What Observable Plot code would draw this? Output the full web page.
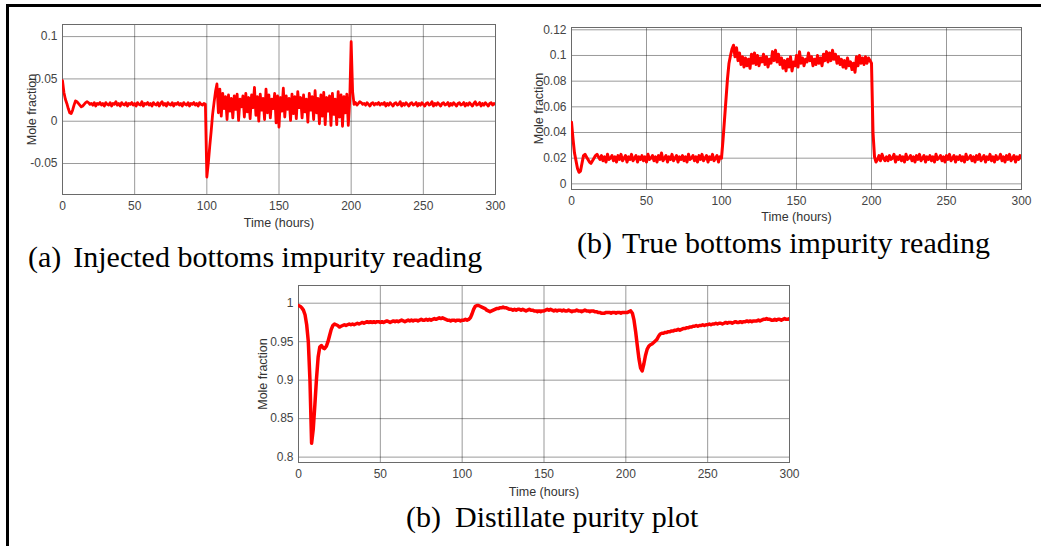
<!DOCTYPE html>
<html><head><meta charset="utf-8">
<script src="https://cdn.jsdelivr.net/npm/d3@7"></script>
<script src="https://cdn.jsdelivr.net/npm/@observablehq/plot@0.6"></script>
<style>
html,body{margin:0;padding:0;background:#fff;}
#fig{position:relative;width:1041px;height:546px;overflow:hidden;background:#fff;}
.pane{position:absolute;}
.cap{position:absolute;font-family:"Liberation Serif","Times New Roman",serif;font-size:30px;line-height:30px;color:#000;white-space:nowrap;}
.cap .n{display:inline-block;}
.bl{position:absolute;background:#000;}
</style></head><body>
<div id="fig">
  <div class="bl" style="left:6px;top:4px;width:3px;height:542px"></div>
  <div class="bl" style="left:6px;top:4px;width:1035px;height:3px"></div>
  <div id="pa" class="pane" style="left:0px;top:0px;width:520px"></div>
  <div id="pb" class="pane" style="left:520px;top:0px;width:521px"></div>
  <div id="pc" class="pane" style="left:240px;top:270px;width:570px"></div>
  <div class="cap" style="left:28px;top:242px"><span class="n" style="margin-right:12px">(a)</span>Injected bottoms impurity reading</div>
  <div class="cap" style="left:577px;top:228px"><span class="n" style="margin-right:10px">(b)</span>True bottoms impurity reading</div>
  <div class="cap" style="left:406px;top:502px"><span class="n" style="margin-right:14px">(b)</span>Distillate purity plot</div>
</div>
<script>
// Sampling instants (hours)
const hours = d3.range(0, 301);

// (a) Injected bottoms impurity reading (mole fraction)
const injectedBottoms = [
0.048,0.034,0.026,0.021,0.015,0.010,0.009,0.013,0.019,0.024,
0.023,0.021,0.019,0.017,0.018,0.020,0.022,0.023,0.022,0.020,
0.021,0.019,0.022,0.018,0.021,0.020,0.022,0.019,0.021,0.018,
0.022,0.020,0.019,0.022,0.018,0.021,0.020,0.023,0.019,0.021,
0.018,0.022,0.020,0.019,0.022,0.018,0.021,0.020,0.022,0.019,
0.021,0.018,0.022,0.020,0.019,0.023,0.018,0.021,0.020,0.022,
0.019,0.021,0.018,0.022,0.020,0.019,0.022,0.018,0.021,0.023,
0.019,0.021,0.018,0.022,0.020,0.019,0.022,0.018,0.021,0.020,
0.022,0.019,0.021,0.018,0.022,0.020,0.019,0.022,0.018,0.021,
0.020,0.022,0.019,0.021,0.018,0.022,0.020,0.019,0.021,0.020,
-0.066,-0.050,-0.030,-0.012,0.008,0.022,0.035,0.044,0.010,0.038,
0.006,0.033,0.015,0.029,0.002,0.031,0.012,0.027,0.004,0.030,
0.014,0.032,0.001,0.026,0.017,0.030,0.005,0.033,0.011,0.028,
0.003,0.031,0.016,0.040,0.007,0.029,0.000,0.032,0.013,0.027,
0.002,0.038,0.010,0.031,0.004,0.026,0.015,0.033,-0.002,0.030,
-0.007,0.028,0.012,0.039,0.005,0.030,0.014,0.027,0.001,0.032,
0.009,0.029,0.003,0.035,0.016,0.028,0.004,0.031,0.011,0.026,
-0.001,0.033,0.013,0.029,0.002,0.036,0.010,0.027,-0.003,0.031,
0.006,0.034,-0.004,0.028,0.012,0.030,-0.005,0.033,0.008,0.026,
-0.004,0.035,0.005,0.031,-0.006,0.029,0.010,0.032,-0.005,0.024,
0.094,0.035,0.020,0.022,0.019,0.021,0.023,0.022,0.020,0.021,
0.019,0.022,0.020,0.018,0.021,0.022,0.019,0.021,0.020,0.022,
0.019,0.021,0.020,0.022,0.018,0.021,0.019,0.022,0.020,0.018,
0.021,0.022,0.019,0.020,0.023,0.018,0.021,0.019,0.022,0.020,
0.018,0.021,0.022,0.019,0.020,0.022,0.018,0.021,0.019,0.022,
0.020,0.018,0.021,0.022,0.019,0.020,0.023,0.018,0.021,0.019,
0.022,0.020,0.018,0.021,0.022,0.019,0.020,0.022,0.018,0.021,
0.019,0.022,0.020,0.018,0.021,0.022,0.019,0.020,0.022,0.018,
0.021,0.019,0.022,0.020,0.018,0.021,0.023,0.019,0.020,0.022,
0.018,0.021,0.019,0.022,0.020,0.018,0.021,0.022,0.019,0.021,
0.020
];

// (b) True bottoms impurity reading (mole fraction)
const trueBottoms = [
0.048,0.035,0.024,0.018,0.012,0.009,0.010,0.016,0.022,0.023,
0.021,0.019,0.017,0.016,0.018,0.020,0.022,0.023,0.021,0.019,
0.022,0.018,0.021,0.017,0.023,0.019,0.020,0.022,0.018,0.021,
0.017,0.022,0.019,0.023,0.018,0.020,0.022,0.017,0.021,0.019,
0.023,0.018,0.020,0.022,0.017,0.021,0.019,0.022,0.018,0.021,
0.017,0.023,0.019,0.020,0.022,0.018,0.021,0.017,0.022,0.019,
0.024,0.018,0.020,0.022,0.017,0.021,0.019,0.023,0.018,0.020,
0.022,0.017,0.021,0.019,0.022,0.018,0.021,0.017,0.023,0.019,
0.020,0.022,0.018,0.021,0.017,0.022,0.019,0.023,0.018,0.020,
0.022,0.017,0.021,0.019,0.023,0.018,0.020,0.022,0.017,0.021,
0.020,0.034,0.050,0.066,0.082,0.094,0.100,0.105,0.108,0.099,
0.106,0.096,0.102,0.093,0.099,0.091,0.098,0.092,0.097,0.090,
0.101,0.094,0.102,0.093,0.100,0.092,0.098,0.095,0.101,0.093,
0.099,0.091,0.097,0.094,0.103,0.096,0.104,0.095,0.101,0.093,
0.098,0.090,0.096,0.088,0.097,0.091,0.099,0.088,0.095,0.092,
0.100,0.091,0.103,0.094,0.098,0.092,0.097,0.095,0.102,0.096,
0.099,0.092,0.097,0.093,0.100,0.094,0.098,0.092,0.101,0.096,
0.103,0.095,0.102,0.096,0.104,0.097,0.101,0.094,0.099,0.093,
0.097,0.091,0.096,0.090,0.098,0.092,0.095,0.089,0.094,0.087,
0.099,0.092,0.100,0.094,0.098,0.093,0.099,0.094,0.098,0.096,
0.094,0.040,0.021,0.017,0.019,0.022,0.018,0.023,0.020,0.018,
0.021,0.018,0.022,0.019,0.020,0.023,0.017,0.021,0.019,0.022,
0.018,0.021,0.017,0.023,0.019,0.020,0.022,0.018,0.021,0.017,
0.022,0.019,0.023,0.018,0.020,0.022,0.017,0.021,0.019,0.022,
0.018,0.021,0.017,0.023,0.019,0.020,0.022,0.018,0.021,0.017,
0.022,0.019,0.023,0.018,0.020,0.022,0.017,0.021,0.019,0.022,
0.018,0.021,0.017,0.023,0.019,0.020,0.022,0.018,0.021,0.017,
0.022,0.019,0.023,0.018,0.020,0.022,0.017,0.021,0.019,0.023,
0.018,0.021,0.017,0.022,0.019,0.020,0.023,0.018,0.021,0.017,
0.022,0.019,0.023,0.018,0.020,0.022,0.017,0.021,0.019,0.022,
0.020
];

// (c) Distillate purity (mole fraction)
const distillatePurity = [
0.997,0.996,0.994,0.991,0.985,0.972,0.950,0.900,0.818,0.836,
0.868,0.902,0.930,0.943,0.945,0.942,0.941,0.944,0.950,0.958,
0.966,0.971,0.973,0.972,0.971,0.969,0.970,0.971,0.972,0.971,
0.972,0.973,0.972,0.973,0.972,0.973,0.974,0.973,0.974,0.975,
0.974,0.975,0.976,0.975,0.976,0.975,0.976,0.975,0.976,0.976,
0.975,0.976,0.975,0.976,0.977,0.976,0.975,0.976,0.977,0.976,
0.977,0.976,0.977,0.978,0.977,0.976,0.977,0.978,0.977,0.978,
0.977,0.978,0.978,0.977,0.978,0.979,0.978,0.978,0.979,0.978,
0.979,0.978,0.979,0.980,0.979,0.980,0.981,0.980,0.981,0.980,
0.979,0.978,0.978,0.977,0.978,0.978,0.977,0.978,0.978,0.977,
0.978,0.978,0.979,0.978,0.979,0.981,0.986,0.992,0.996,0.997,
0.997,0.996,0.995,0.994,0.993,0.991,0.990,0.989,0.990,0.991,
0.992,0.993,0.993,0.994,0.994,0.995,0.994,0.994,0.993,0.992,
0.992,0.991,0.992,0.991,0.992,0.992,0.991,0.992,0.991,0.990,
0.991,0.992,0.991,0.991,0.990,0.990,0.989,0.990,0.989,0.990,
0.990,0.991,0.992,0.991,0.992,0.991,0.990,0.991,0.990,0.991,
0.991,0.990,0.991,0.990,0.990,0.991,0.990,0.989,0.990,0.990,
0.991,0.990,0.990,0.989,0.990,0.991,0.990,0.990,0.989,0.990,
0.990,0.989,0.989,0.988,0.988,0.987,0.987,0.987,0.988,0.988,
0.988,0.987,0.988,0.988,0.987,0.988,0.988,0.987,0.988,0.988,
0.988,0.988,0.989,0.990,0.987,0.978,0.963,0.945,0.928,0.916,
0.912,0.921,0.932,0.940,0.944,0.946,0.947,0.949,0.951,0.953,
0.957,0.960,0.961,0.961,0.962,0.962,0.963,0.963,0.964,0.964,
0.965,0.965,0.966,0.965,0.966,0.967,0.967,0.968,0.968,0.969,
0.969,0.970,0.970,0.971,0.970,0.971,0.971,0.972,0.971,0.972,
0.972,0.973,0.972,0.973,0.973,0.974,0.973,0.974,0.974,0.973,
0.974,0.975,0.974,0.975,0.975,0.974,0.975,0.976,0.975,0.975,
0.976,0.975,0.976,0.976,0.977,0.976,0.977,0.976,0.977,0.977,
0.977,0.978,0.977,0.978,0.979,0.979,0.980,0.979,0.979,0.978,
0.978,0.979,0.978,0.979,0.979,0.978,0.979,0.980,0.979,0.979,0.980
];

// Tick values
const xTicks = [0, 50, 100, 150, 200, 250, 300];
const yTicksA = [-0.05, 0, 0.05, 0.1];
const yTicksB = [0, 0.02, 0.04, 0.06, 0.08, 0.1, 0.12];
const yTicksC = [0.8, 0.85, 0.9, 0.95, 1];
const xLabel = "Time (hours)";
const yLabel = "Mole fraction";

function panel(vals, o) {
  const data = hours.map((t, i) => ({t, v: vals[i]}));
  return Plot.plot({
    width: o.width, height: o.height,
    marginLeft: o.ml, marginRight: o.mr, marginTop: o.mt, marginBottom: o.mb,
    style: {fontFamily: '"Liberation Sans", Arial, sans-serif', fontSize: "12px", color: "#404040", background: "transparent", overflow: "visible"},
    x: {domain: [0, 300], label: null},
    y: {domain: o.yDomain, label: null},
    marks: [
      Plot.gridX(xTicks, {stroke: "#000", strokeOpacity: 0.4}),
      Plot.gridY(o.yTicks, {stroke: "#000", strokeOpacity: 0.4}),
      Plot.frame({stroke: "#6a6a6a"}),
      Plot.line(data, {x: "t", y: "v", stroke: "#ff0000", strokeWidth: o.sw, clip: true}),
      Plot.axisX(xTicks, {tickSize: 0, tickPadding: 7, tickFormat: d => String(d), label: null, fill: "#444"}),
      Plot.axisY(o.yTicks, {tickSize: 0, tickPadding: 5, tickFormat: d => String(d), label: null, fill: "#444"}),
      Plot.text([xLabel], {frameAnchor: "bottom", textAnchor: "middle", lineAnchor: "middle", dy: o.xl, text: d => d, fontSize: 12.5, fill: "#333"}),
      Plot.text([yLabel], {frameAnchor: "left", textAnchor: "middle", lineAnchor: "middle", rotate: -90, dx: -o.yl, text: d => d, fontSize: 12.5, fill: "#333"})
    ]
  });
}

document.getElementById("pa").append(panel(injectedBottoms, {
  width: 520, height: 240, ml: 62, mr: 25, mt: 24, mb: 46,
  yDomain: [-0.0866, 0.1143], yTicks: yTicksA, sw: 2.8, xl: 28, yl: 31
}));
document.getElementById("pb").append(panel(trueBottoms, {
  width: 521, height: 240, ml: 51, mr: 20, mt: 27, mb: 51,
  yDomain: [-0.0044, 0.1218], yTicks: yTicksB, sw: 3, xl: 27, yl: 33
}));
document.getElementById("pc").append(panel(distillatePurity, {
  width: 570, height: 235, ml: 58, mr: 21, mt: 15, mb: 43,
  yDomain: [0.793, 1.023], yTicks: yTicksC, sw: 3.5, xl: 29, yl: 36
}));
</script>
</body></html>
